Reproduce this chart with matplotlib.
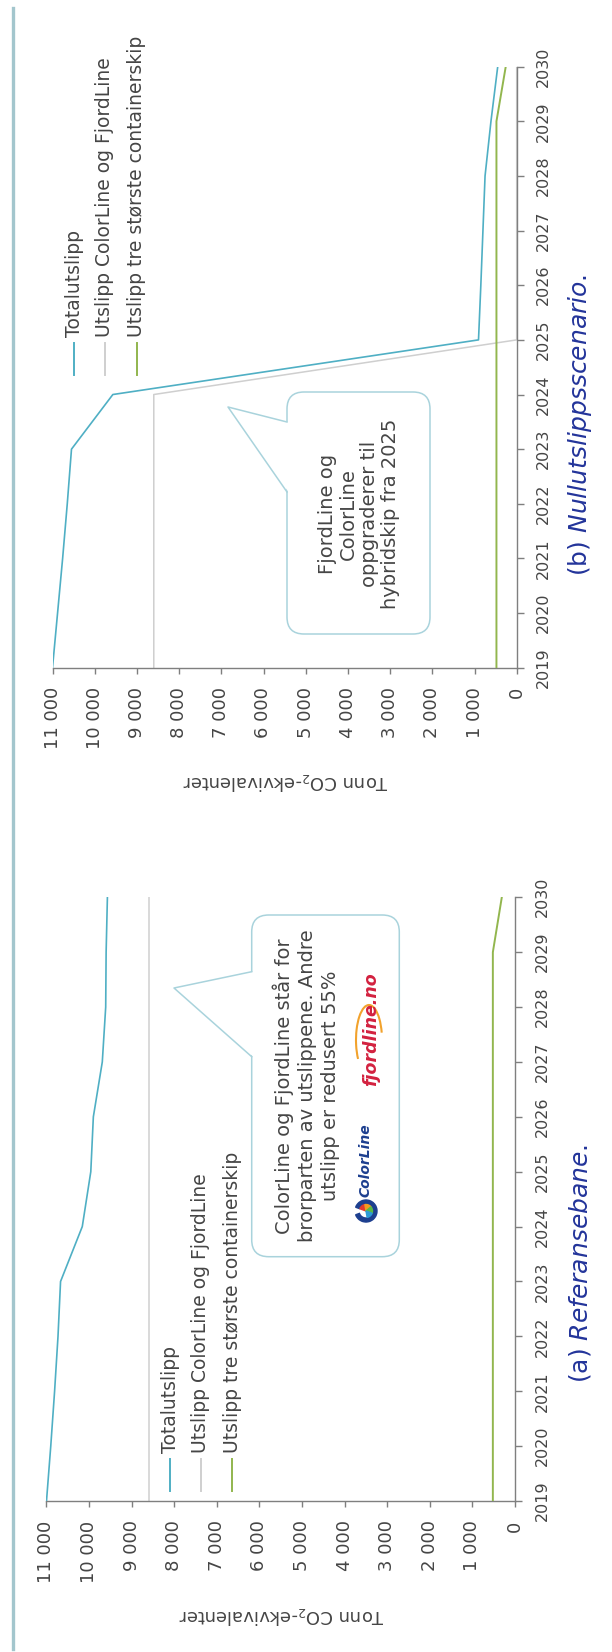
import matplotlib
matplotlib.use("Agg")
import matplotlib.pyplot as plt
from matplotlib.patches import FancyBboxPatch, Polygon, Wedge, Arc
from matplotlib.ticker import FuncFormatter

# ---- data ----
years = [2019, 2020, 2021, 2022, 2023, 2024, 2025, 2026, 2027, 2028, 2029, 2030]

# (a) Referansebane
ref_total = [11000, 10900, 10810, 10730, 10670, 10160, 9960, 9900, 9690, 9610, 9600, 9570]
ref_ferry = [8600, 8600, 8600, 8600, 8600, 8600, 8600, 8600, 8600, 8600, 8600, 8600]
ref_container = [520, 520, 520, 520, 520, 520, 520, 520, 520, 520, 520, 310]

# (b) Nullutslippsscenario
zero_total = [11000, 10880, 10760, 10650, 10550, 9570, 905, 850, 800, 750, 610, 450]
zero_ferry = [8600, 8600, 8600, 8600, 8600, 8600, 0, 0, 0, 0, 0, 0]
zero_container = [480, 480, 480, 480, 480, 480, 480, 480, 480, 480, 480, 260]

series_names = ["Totalutslipp", "Utslipp ColorLine og FjordLine",
                "Utslipp tre største containerskip"]
series_colors = ["#4fafc4", "#cfcfcf", "#92b64e"]

ylabel = "Tonn CO$_2$-ekvivalenter"
caption_a = r"(a) $\mathit{Referansebane.}$"
caption_b = r"(b) $\mathit{Nullutslippsscenario.}$"
note_a = "ColorLine og FjordLine står for\nbrorparten av utslippene. Andre\nutslipp er redusert 55%"
note_b = "FjordLine og\nColorLine\noppgraderer til\nhybridskip fra 2025"

W, H = 612, 1652
TXT = "#454545"
AXC = "#7f7f7f"
EDGE = "#a9d3dc"

plt.rcParams["font.family"] = ["DejaVu Sans"]
fig = plt.figure(figsize=(W / 100, H / 100), dpi=100)


def px_axes(x0, x1, ytop, ybot):
    return fig.add_axes([x0 / W, 1 - ybot / H, (x1 - x0) / W, (ybot - ytop) / H])


def thousands(v, pos):
    return f"{int(round(v)):,}".replace(",", " ")


def setup(ax, total, ferry, container):
    # page is turned 90 degrees: values run along x (11 000 left), years along y
    ax.plot(ferry, years, color=series_colors[1], lw=1.1, zorder=2)
    ax.plot(container, years, color=series_colors[2], lw=1.4, zorder=3)
    ax.plot(total, years, color=series_colors[0], lw=1.2, zorder=4)
    ax.set_xlim(11000, 0)
    ax.set_ylim(2019, 2030)
    ax.set_xticks(range(0, 11001, 1000))
    ax.xaxis.set_major_formatter(FuncFormatter(thousands))
    ax.set_yticks(years)
    ax.yaxis.tick_right()
    ax.spines["top"].set_visible(False)
    ax.spines["left"].set_visible(False)
    for s in ["bottom", "right"]:
        ax.spines[s].set_color(AXC)
        ax.spines[s].set_linewidth(1.0)
    ax.tick_params(axis="x", direction="out", length=4, width=1, colors=AXC,
                   labelcolor=TXT, labelsize=13, labelrotation=90, pad=10)
    ax.tick_params(axis="y", direction="out", length=5, width=1, colors=AXC,
                   labelcolor=TXT, labelsize=11.5, labelrotation=90, pad=9)
    for lab in ax.get_yticklabels():
        lab.set_va("center")
    ax.set_xlabel(ylabel, rotation=180, fontsize=13, color=TXT)
    ax.xaxis.set_label_coords(0.5, -0.172)
    ax.patch.set_alpha(0)


ax_b = px_axes(52.5, 516.7, 66.7, 667.7)
setup(ax_b, zero_total, zero_ferry, zero_container)
ax_a = px_axes(46.5, 515, 897.3, 1501)
setup(ax_a, ref_total, ref_ferry, ref_container)

# overlay in pixel coordinates for legend, callouts and captions
ov = fig.add_axes([0, 0, 1, 1], zorder=10)
ov.set_xlim(0, W)
ov.set_ylim(H, 0)
ov.axis("off")
ov.patch.set_alpha(0)

# rule at the page edge
ov.plot([12.5, 12.5], [8, 1649], color="#a3c6cd", lw=2.4)


def legend(xs, ytxt):
    for x, name, col in zip(xs, series_names, series_colors):
        ov.plot([x, x], [ytxt + 6, ytxt + 38], color=col, lw=1.4)
        ov.text(x, ytxt, name, rotation=90, ha="center", va="bottom",
                fontsize=13.5, color=TXT)


legend([74, 105, 137], 337)
legend([170, 201, 232], 1453)


def callout(x0, y0, x1, y1, b1, b2, tip):
    box = FancyBboxPatch((x0, y0), x1 - x0, y1 - y0,
                         boxstyle="round,pad=0,rounding_size=17",
                         fc="white", ec=EDGE, lw=1.1)
    ov.add_patch(box)
    ov.add_patch(Polygon([(x0 + 1.5, b1), tip, (x0 + 1.5, b2)], closed=True,
                         fc="white", ec="none", zorder=3))
    ov.plot([x0, tip[0], x0], [b1, tip[1], b2], color=EDGE, lw=1.1, zorder=4)


callout(251.7, 915, 399.3, 1256.7, 971.7, 1056.7, (174, 988))
ov.text(306, 1086, note_a, rotation=90, ha="center", va="center",
        multialignment="center", fontsize=14, color=TXT, linespacing=1.25, zorder=5)

callout(287, 392, 430, 634, 422, 492, (228, 407))
ov.text(359, 514, note_b, rotation=90, ha="center", va="center",
        multialignment="center", fontsize=14, color=TXT, linespacing=1.15, zorder=5)

# company marks inside callout (a)
ov.add_patch(Wedge((366, 1211), 11, 200, 520, width=4, color="#1d3f8f", zorder=5))
for t1, t2, c in [(200, 260, "#e23b2e"), (260, 320, "#f39c1f"),
                  (320, 380, "#58b947"), (380, 440, "#2d9bd6")]:
    ov.add_patch(Wedge((366, 1211), 6.5, t1, t2, color=c, zorder=5))
ov.text(366, 1160, "ColorLine", rotation=90, ha="center", va="center",
        fontsize=10, style="italic", weight="bold", color="#1d3f8f", zorder=5)
ov.add_patch(Arc((369, 1040), 26, 70, angle=0, theta1=120, theta2=330,
                 color="#f2a22c", lw=1.5, zorder=5))
ov.text(371, 1029, "fjordline.no", rotation=90, ha="center", va="center",
        fontsize=12.5, style="italic", weight="bold", color="#d3213f", zorder=6)

# captions
ov.text(580, 425, caption_b, rotation=90, ha="center", va="center",
        fontsize=18, color="#23349a")
ov.text(580, 1263, caption_a, rotation=90, ha="center", va="center",
        fontsize=18, color="#23349a")

fig.savefig("out.png", dpi=100)
